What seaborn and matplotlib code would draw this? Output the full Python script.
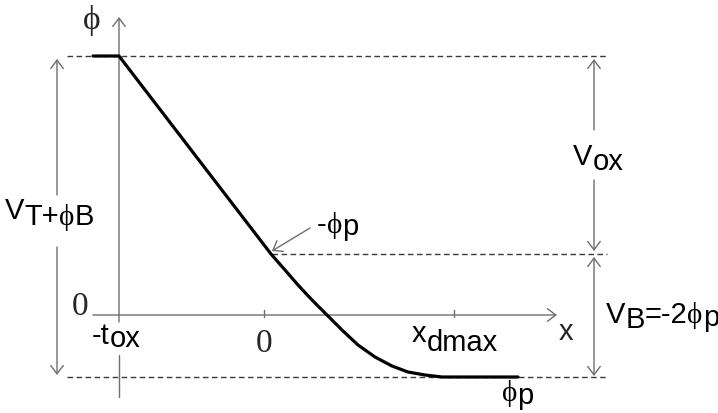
import numpy as np
import pandas as pd
import seaborn as sns
import matplotlib.pyplot as plt
from matplotlib.patches import FancyArrowPatch

sns.set_theme(style="white")
SANS = ["Liberation Sans", "DejaVu Sans"]
SERIF = ["Liberation Serif", "DejaVu Serif"]
plt.rcParams["font.family"] = SANS

# ---- data (x: 0 at the "0" tick, y: 0 on the x axis) ----
curve_x = [-171, -145, 7, 21, 34, 48, 63, 78, 94, 111, 128, 144, 161, 178, 254]
curve_y = [259, 259, 61, 45, 30, 15, 0, -15, -30, -42, -51, -57, -60, -62, -62]

x_tox = -145          # -t_ox position (y axis)
x_ticks = [0, 190]    # "0" and "x_dmax"
level_top = 259       # V_T + phi_B
level_minus_phip = 61 # -phi_p
level_phip = -62      # phi_p

df = pd.DataFrame({"x": curve_x, "phi": curve_y})

fig = plt.figure(figsize=(7.18, 4.13), dpi=100)
ax = fig.add_axes([0, 0, 1, 1])

GRAY = "#6e6e6e"
DASH = "#3a3a3a"


def arrow(p0, p1, color=GRAY, style="->", lw=1.0):
    a = FancyArrowPatch(p0, p1, arrowstyle=f"{style},head_length=0.6,head_width=0.45",
                        mutation_scale=10, color=color, lw=lw, shrinkA=0, shrinkB=0)
    ax.add_patch(a)


# dashed reference levels
ax.plot([-197, 343], [level_top, level_top], color=DASH, lw=1.0, ls=(0, (4, 2.5)))
ax.plot([8, 343], [level_minus_phip, level_minus_phip], color=DASH, lw=1.0, ls=(0, (4, 2.5)))
ax.plot([-197, 343], [level_phip, level_phip], color=DASH, lw=1.0, ls=(0, (4, 2.5)))

# axes
arrow((-171, 0), (293, 0))
ax.plot([x_tox, x_tox], [-82, -40], color=GRAY, lw=1.0)
arrow((x_tox, -7), (x_tox, 298))
for xt in x_ticks:
    ax.plot([xt, xt], [-2, 5], color=GRAY, lw=1.0)

# potential curve
sns.lineplot(data=df, x="x", y="phi", sort=False, color="black", lw=2.3, ax=ax,
             legend=False)
ax.set_xlim(-264, 454)
ax.set_ylim(-98, 315)
ax.axis("off")

# left dimension arrow (V_T + phi_B)
arrow((-207, 120), (-207, 256))
arrow((-207, 68), (-207, -60))
# right dimension arrows (V_ox, V_B)
arrow((330, 185), (330, 256))
arrow((330, 135), (330, 64))
arrow((330, 58), (330, -61), style="<->")
# pointer to -phi_p
arrow((46, 87), (8, 64))


def chain(x, y, parts, size=21):
    prev = None
    for text, dy_px, fam in parts:
        kw = dict(fontsize=size, family=fam, ha="left", va="baseline", color="black")
        if prev is None:
            prev = ax.annotate(text, xy=(x, y), xycoords="data",
                               xytext=(0, -dy_px * 0.72), textcoords="offset points", **kw)
        else:
            prev = ax.annotate(text, xy=(1, y), xycoords=(prev, "data"),
                               xytext=(0, -dy_px * 0.72), textcoords="offset points", **kw)
    return prev


PHI = "\u03d5"
ax.text(-172, 295, PHI, family=SERIF, fontsize=24, ha="center", va="center")
ax.text(-184, 8, "0", family=SERIF, fontsize=24, ha="center", va="center")
ax.text(0, -29, "0", family=SERIF, fontsize=24, ha="center", va="center")

chain(-259, 96, [("V", 0, SANS), ("T+", 6, SANS), (PHI, 6, SERIF), ("B", 6, SANS)])
chain(-172, -29, [("-t", 0, SANS), ("ox", 3, SANS)])
chain(148, -27, [("x", 0, SANS), ("dmax", 9, SANS)])
ax.text(295, -25, "x", family=SANS, fontsize=21, ha="left", va="baseline")
chain(238, -86, [(PHI, 0, SERIF), ("p", 3, SANS)])
chain(53, 82, [("-", 0, SANS), (PHI, 0, SERIF), ("p", 2, SANS)])
chain(309, 150, [("V", 0, SANS), ("ox", 5, SANS)])
chain(342, -8, [("V", 0, SANS), ("B", 5, SANS), ("=-2", 0, SANS), (PHI, 0, SERIF), ("p", 3, SANS)])

fig.savefig("out.png", dpi=100, facecolor="white")
